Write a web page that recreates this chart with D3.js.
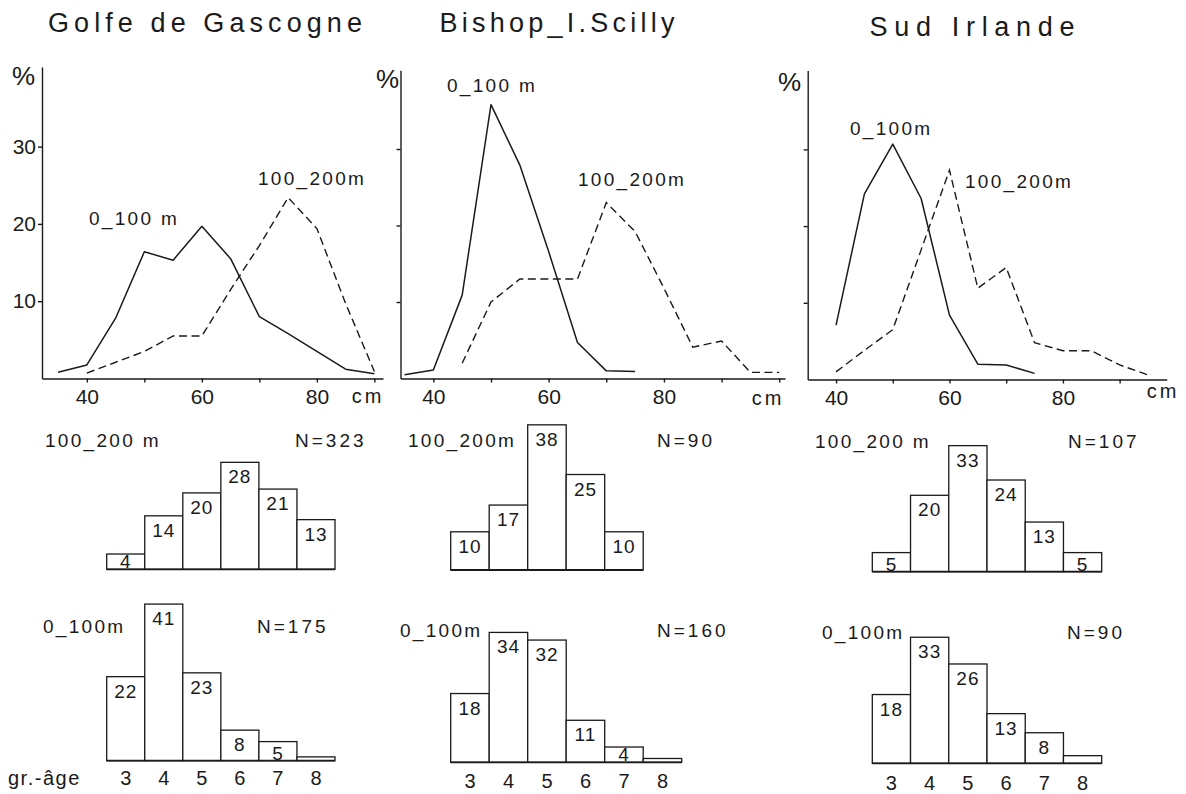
<!DOCTYPE html>
<html>
<head>
<meta charset="utf-8">
<script src="https://cdn.jsdelivr.net/npm/d3@7"></script>
<style>
  html, body { margin: 0; padding: 0; background: #fff; }
  svg { display: block; }
  text { font-family: "Liberation Sans", Arial, sans-serif; fill: #1a1a1a; }
</style>
</head>
<body>
<svg id="fig" width="1186" height="794"></svg>
<script>
// ---- Data -------------------------------------------------------------
const regions = ["Golfe de Gascogne", "Bishop_I.Scilly", "Sud Irlande"];

// Length-frequency distributions: [length class (cm), percentage]
const gascogneShallow = [[35,0.8],[40,1.75],[45,7.8],[50,16.4],[55,15.3],[60,19.7],[65,15.5],[70,8],[75,5.8],[80,3.5],[85,1.2],[90,0.6]];
const gascogneDeep    = [[40,0.7],[45,2.1],[50,3.5],[55,5.5],[60,5.5],[65,11.5],[70,17.2],[75,23.4],[80,19.4],[85,9.7],[90,0.9]];
const scillyShallow   = [[35,0.5],[40,1.1],[45,10.9],[50,35.8],[55,27.9],[60,16.6],[65,4.7],[70,1],[75,0.9]];
const scillyDeep      = [[45,2],[50,10],[55,13],[60,13],[65,13],[70,23],[75,19.2],[80,11.8],[85,4.1],[90,4.9],[95,0.8],[100,0.8]];
const irlandeShallow  = [[40,7.1],[45,24.2],[50,30.7],[55,23.6],[60,8.4],[65,2],[70,1.9],[75,0.8]];
const irlandeDeep     = [[40,1],[45,3.8],[50,6.5],[55,16.9],[60,27.3],[65,11.9],[70,14.6],[75,4.8],[80,3.75],[85,3.75],[90,1.9],[95,0.6]];

const yTicks = [10, 20, 30];
const xTickLabels = [40, 60, 80];

// Age-group composition (%), age groups 3..8
const ageGroups = [3, 4, 5, 6, 7, 8];
const gascogneAgeDeep    = [4, 14, 20, 28, 21, 13];
const gascogneAgeShallow = [22, 41, 23, 8, 5, 1];
const scillyAgeDeep      = [10, 17, 38, 25, 10];
const scillyAgeShallow   = [18, 34, 32, 11, 4, 1];
const irlandeAgeDeep     = [5, 20, 33, 24, 13, 5];
const irlandeAgeShallow  = [18, 33, 26, 13, 8, 2];

const sampleDeep    = [323, 90, 107];
const sampleShallow = [175, 160, 90];

// ---- Layout -----------------------------------------------------------
const panels = [
  { title: regions[0], tx: 205, ty: 32, tlen: 314,
    pct: [12, 85], xDom: [32.2, 91.5], xRange: [42, 383], zero: 378.5, unit: 7.73,
    xTicks: [40, 50, 60, 70, 80, 90], cm: [368, 403], yLabels: true,
    shallow: gascogneShallow, deep: gascogneDeep,
    shallowLbl: ["0_100 m", 89, 225], deepLbl: ["100_200m", 258, 185],
    hist: { left: 106.7, right: 335, topBase: 569.3, botBase: 760.7,
            topLbl: ["100_200 m", 45, 447], topN: [295, 447],
            botLbl: ["0_100m", 43, 633], botN: [257, 633], ageY: 785 },
    deepAges: gascogneAgeDeep, shallowAges: gascogneAgeShallow },
  { title: regions[1], tx: 557, ty: 32, tlen: 235,
    pct: [376, 88], xDom: [34.3, 101], xRange: [400.5, 785], zero: 378.5, unit: 7.65,
    xTicks: [40, 50, 60, 70, 80, 90, 100], cm: [768, 405], yLabels: false,
    shallow: scillyShallow, deep: scillyDeep,
    shallowLbl: ["0_100 m", 447, 92], deepLbl: ["100_200m", 578, 186],
    hist: { left: 450.7, right: 681.7, topBase: 570, botBase: 762.3,
            topLbl: ["100_200m", 408, 447], topN: [657, 447],
            botLbl: ["0_100m", 400, 637], botN: [657, 637], ageY: 788 },
    deepAges: scillyAgeDeep, shallowAges: scillyAgeShallow },
  { title: regions[2], tx: 972, ty: 36, tlen: 205,
    pct: [778, 91], xDom: [35, 98.3], xRange: [807.7, 1166.7], zero: 379.5, unit: 7.67,
    xTicks: [40, 50, 60, 70, 80, 90], cm: [1163, 398], yLabels: false,
    shallow: irlandeShallow, deep: irlandeDeep,
    shallowLbl: ["0_100m", 850, 135], deepLbl: ["100_200m", 965, 188],
    hist: { left: 872.3, right: 1101.7, topBase: 571.7, botBase: 763.3,
            topLbl: ["100_200 m", 815, 448], topN: [1068, 448],
            botLbl: ["0_100m", 822, 639], botN: [1067, 639], ageY: 790 },
    deepAges: irlandeAgeDeep, shallowAges: irlandeAgeShallow }
];

const ink = "#1a1a1a";
const labelSize = 19, labelSpacing = 2.3;
const svg = d3.select("#fig");

panels.forEach((p, i) => {
  const g = svg.append("g");

  // Title
  g.append("text")
    .attr("x", p.tx).attr("y", p.ty)
    .attr("text-anchor", "middle")
    .attr("font-size", 27)
    .attr("textLength", p.tlen).attr("lengthAdjust", "spacing")
    .text(p.title);

  // ---- Length-frequency line chart ----
  const x = d3.scaleLinear().domain(p.xDom).range(p.xRange);
  const y = d3.scaleLinear().domain([0, 40.3]).range([p.zero, p.zero - 40.3 * p.unit]);

  const xAxis = g.append("g")
    .attr("transform", `translate(0,${p.zero})`)
    .call(d3.axisBottom(x)
      .tickValues(p.xTicks)
      .tickSize(4).tickSizeOuter(0).tickPadding(7)
      .tickFormat(d => xTickLabels.includes(d) ? d : ""));
  xAxis.selectAll("text").attr("font-size", 21).attr("fill", ink)
    .style("font-family", "'Liberation Sans', Arial, sans-serif");

  const yAxis = g.append("g")
    .attr("transform", `translate(${p.xRange[0]},0)`)
    .call(d3.axisLeft(y)
      .tickValues(yTicks)
      .tickSize(4).tickSizeOuter(0).tickPadding(2)
      .tickFormat(d => p.yLabels ? d : ""));
  yAxis.selectAll("text").attr("font-size", 21).attr("fill", ink)
    .style("font-family", "'Liberation Sans', Arial, sans-serif");

  [xAxis, yAxis].forEach(a => {
    a.selectAll("path, line").attr("stroke", ink).attr("stroke-width", 1.4);
  });

  g.append("text").attr("x", p.pct[0]).attr("y", p.pct[1])
    .attr("font-size", 26).text("%");
  g.append("text").attr("x", p.cm[0]).attr("y", p.cm[1])
    .attr("text-anchor", "middle").attr("font-size", 20)
    .attr("letter-spacing", 3).text("cm");

  const line = d3.line().x(d => x(d[0])).y(d => y(d[1]));
  g.append("path").datum(p.shallow)
    .attr("d", line).attr("fill", "none")
    .attr("stroke", ink).attr("stroke-width", 1.5)
    .attr("stroke-linejoin", "round");
  g.append("path").datum(p.deep)
    .attr("d", line).attr("fill", "none")
    .attr("stroke", ink).attr("stroke-width", 1.4)
    .attr("stroke-dasharray", "8,4.5");

  [p.shallowLbl, p.deepLbl].forEach(l => {
    g.append("text").attr("x", l[1]).attr("y", l[2])
      .attr("font-size", labelSize).attr("letter-spacing", labelSpacing).text(l[0]);
  });

  // ---- Age-group histograms ----
  const h = p.hist;
  const bx = d3.scaleBand().domain(ageGroups).range([h.left, h.right]).padding(0);

  function histogram(values, base, lbl, nPos, n) {
    const by = d3.scaleLinear().domain([0, 45]).range([base, base - 45 * 3.82]);
    const data = values.map((v, k) => ({ age: ageGroups[k], v }));
    const hg = g.append("g");
    hg.selectAll("rect").data(data).join("rect")
      .attr("x", d => bx(d.age)).attr("width", bx.bandwidth())
      .attr("y", d => by(d.v)).attr("height", d => base - by(d.v))
      .attr("fill", "#fff").attr("stroke", ink).attr("stroke-width", 1.3);
    hg.selectAll("text.val").data(data.filter(d => d.v >= 3)).join("text")
      .attr("class", "val")
      .attr("x", d => bx(d.age) + bx.bandwidth() / 2)
      .attr("y", d => Math.min(by(d.v) + 21, base - 1))
      .attr("text-anchor", "middle").attr("font-size", 19)
      .attr("letter-spacing", 1).text(d => d.v);
    hg.append("line")
      .attr("x1", bx(ageGroups[0])).attr("x2", bx(data[data.length - 1].age) + bx.bandwidth())
      .attr("y1", base).attr("y2", base)
      .attr("stroke", ink).attr("stroke-width", 1.8);
    hg.append("text").attr("x", lbl[1]).attr("y", lbl[2])
      .attr("font-size", labelSize).attr("letter-spacing", labelSpacing).text(lbl[0]);
    hg.append("text").attr("x", nPos[0]).attr("y", nPos[1])
      .attr("font-size", labelSize).attr("letter-spacing", 3).text("N=" + n);
  }

  histogram(p.deepAges, h.topBase, h.topLbl, h.topN, sampleDeep[i]);
  histogram(p.shallowAges, h.botBase, h.botLbl, h.botN, sampleShallow[i]);

  g.selectAll("text.age").data(ageGroups).join("text")
    .attr("class", "age")
    .attr("x", d => bx(d) + bx.bandwidth() / 2)
    .attr("y", h.ageY)
    .attr("text-anchor", "middle").attr("font-size", 20)
    .text(d => d);
});

svg.append("text").attr("x", 8).attr("y", 785)
  .attr("font-size", 20).attr("letter-spacing", 1.5).text("gr.-âge");
</script>
</body>
</html>
